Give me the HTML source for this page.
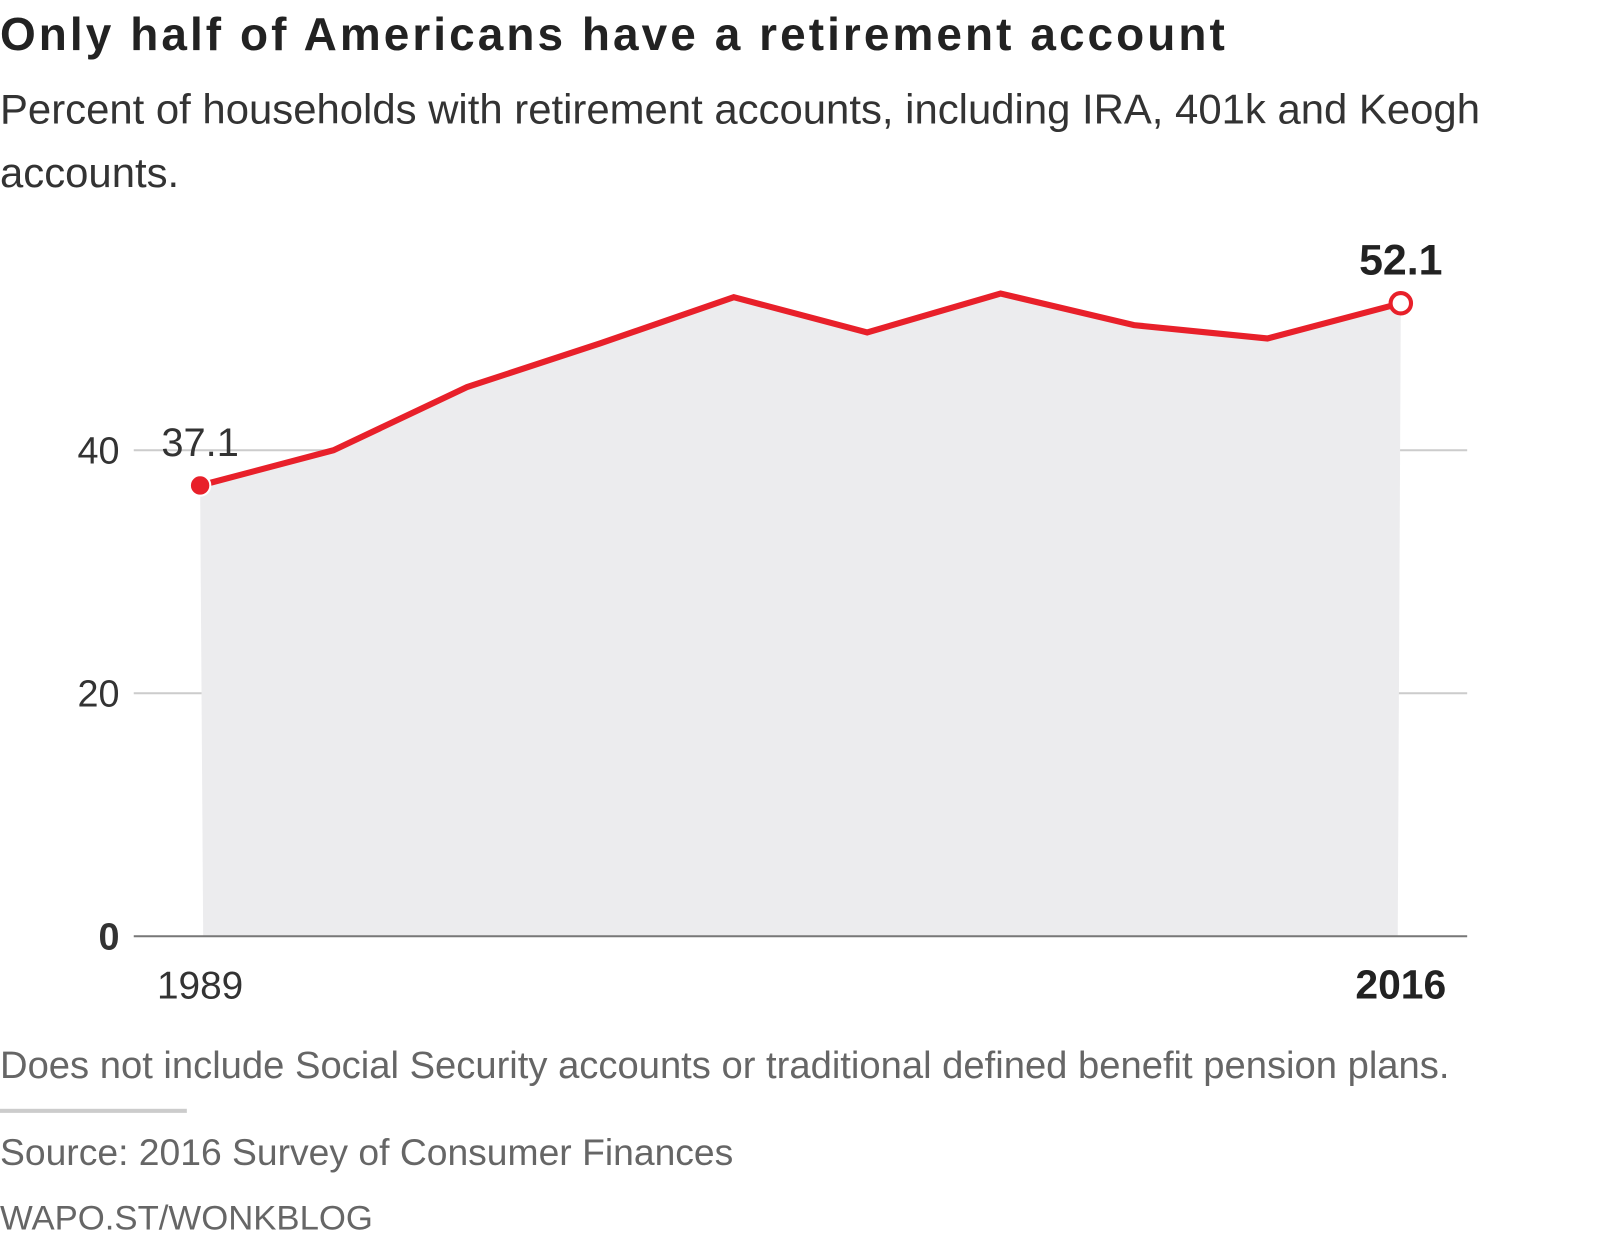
<!DOCTYPE html>
<html><head><meta charset="utf-8"><style>
body{margin:0;background:#fff;width:1600px;height:1245px;overflow:hidden;font-family:"Liberation Sans",sans-serif;}
#wrap{position:absolute;left:0;top:0;width:1567px;height:1220px;transform:scale(1.021);transform-origin:0 0;}
.t{position:absolute;left:0;white-space:nowrap;line-height:1.15;}
</style></head><body>
<div id="wrap">
<div class="t" style="top:8px;font-size:45px;font-weight:bold;color:#222;letter-spacing:3px;">Only half of Americans have a retirement account</div>
<div class="t" style="top:76px;font-size:41px;color:#333;line-height:62px;white-space:normal;width:1500px;">Percent of households with retirement accounts, including IRA, 401k and Keogh accounts.</div>
<svg id="c" width="1567" height="1220" style="position:absolute;left:0;top:0;font-family:'Liberation Sans',sans-serif;"></svg>
<div class="t" style="top:1022px;font-size:37.4px;color:#666;">Does not include Social Security accounts or traditional defined benefit pension plans.</div>
<div style="position:absolute;left:0;top:1086px;width:183px;height:4px;background:#ccc;"></div>
<div class="t" style="top:1108px;font-size:36.5px;color:#666;">Source: 2016 Survey of Consumer Finances</div>
<div class="t" style="top:1174px;font-size:34px;color:#666;">WAPO.ST/WONKBLOG</div>
</div>
<script>
const years=[1989,1992,1995,1998,2001,2004,2007,2010,2013,2016];
const values=[37.1,40.0,45.2,48.8,52.6,49.7,52.9,50.3,49.2,52.1];
const yTicks=[0,20,40];
const NS='http://www.w3.org/2000/svg';
const svg=document.getElementById('c');
const x=v=>196+(v-1989)/(2016-1989)*(1372-196);
const y=v=>917-v*11.9;
function mk(tag,attrs,parent){const e=document.createElementNS(NS,tag);for(const k in attrs)e.setAttribute(k,attrs[k]);(parent||svg).appendChild(e);return e;}
yTicks.forEach(t=>{
  if(t>0){const g=mk('line',{x1:131,x2:1437,y1:y(t),y2:y(t),stroke:'#ccc','stroke-width':2});
  
  }
  const l=mk('text',{x:117,y:y(t)+13,'text-anchor':'end','font-size':37,fill:'#333','font-weight':t===0?'bold':'normal'});
  l.textContent=t;
  
  
});
let pts=years.map((yr,i)=>x(yr)+','+y(values[i]));
const area=mk('polygon',{points:x(years[0])+3+','+y(0)+' '+pts.join(' ')+' '+(x(years[years.length-1])-3)+','+y(0),fill:'#ececee'});


const ax=mk('line',{x1:131,x2:1437,y1:y(0),y2:y(0),stroke:'#777','stroke-width':2});


const ln=mk('polyline',{points:pts.join(' '),fill:'none',stroke:'#e8202a','stroke-width':6,'stroke-linejoin':'miter'});


const n=years.length-1;
const d0=mk('circle',{cx:x(years[0]),cy:y(values[0]),r:10,fill:'#e8202a',stroke:'#fff','stroke-width':2});


const d1=mk('circle',{cx:x(years[n]),cy:y(values[n]),r:10,fill:'#fff',stroke:'#e8202a','stroke-width':4});


const v0=mk('text',{x:x(years[0]),y:y(values[0])-29,'text-anchor':'middle','font-size':39,fill:'#333'});
v0.textContent=values[0];


const v1=mk('text',{x:x(years[n]),y:y(values[n])-28,'text-anchor':'middle','font-size':42,fill:'#222','font-weight':'bold'});
v1.textContent=values[n];


const x0=mk('text',{x:x(years[0]),y:978,'text-anchor':'middle','font-size':38,fill:'#333'});
x0.textContent=years[0];


const x1=mk('text',{x:x(years[n]),y:978,'text-anchor':'middle','font-size':40,fill:'#222','font-weight':'bold'});
x1.textContent=years[n];


</script>
</body></html>
